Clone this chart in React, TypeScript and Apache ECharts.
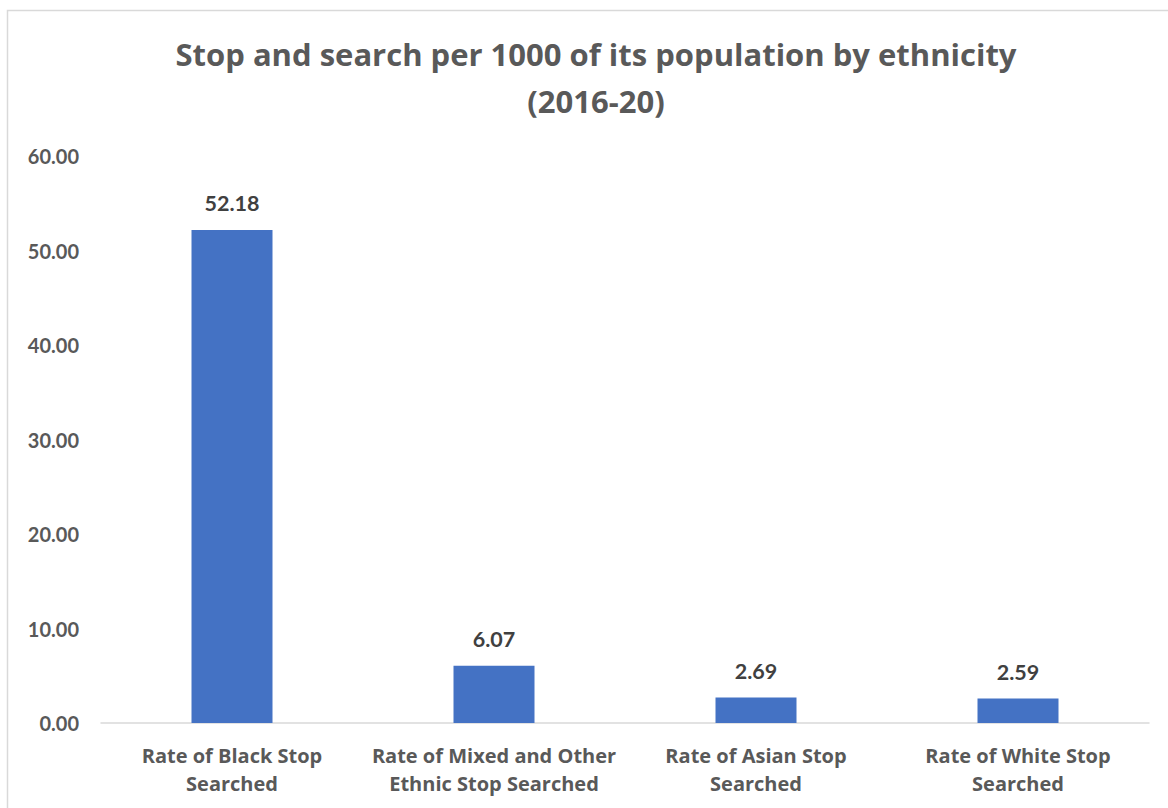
import React, { useEffect, useRef } from "react";
import * as echarts from "echarts";

const categories = [
  "Rate of Black Stop\nSearched",
  "Rate of Mixed and Other\nEthnic Stop Searched",
  "Rate of Asian Stop\nSearched",
  "Rate of White Stop\nSearched",
];
const values = [52.18, 6.07, 2.69, 2.59];
const titleText = "Stop and search per 1000 of its population by ethnicity\n(2016-20)";

const FONT = "Lato, 'Open Sans', sans-serif";
const FONT2 = "'Open Sans', Lato, sans-serif";

export default function App() {
  const ref = useRef<HTMLDivElement>(null);
  useEffect(() => {
    if (!ref.current) return;
    const chart = echarts.init(ref.current, null, { renderer: "svg" });
    chart.setOption({
      animation: false,
      backgroundColor: "#ffffff",
      title: {
        text: titleText,
        left: 591,
        textAlign: "center",
        top: 25,
        textStyle: {
          fontFamily: FONT2,
          fontSize: 31,
          fontWeight: "bold",
          color: "#595959",
          lineHeight: 47,
        },
      },
      graphic: [
        {
          type: "rect",
          shape: { x: 7.5, y: 10.5, width: 1200, height: 900 },
          style: { fill: "none", stroke: "#d9d9d9", lineWidth: 1.5 },
          silent: true,
          z: -1,
        },
      ],
      grid: { left: 101, right: 19, top: 156, bottom: 85 },
      xAxis: {
        type: "category",
        data: categories,
        axisLine: { show: true, lineStyle: { color: "#d9d9d9", width: 1.5 } },
        axisTick: { show: false },
        axisLabel: {
          fontFamily: FONT2,
          fontSize: 20,
          fontWeight: "bold",
          color: "#595959",
          lineHeight: 28,
          margin: 18,
          interval: 0,
        },
      },
      yAxis: {
        type: "value",
        min: 0,
        max: 60,
        interval: 10,
        splitLine: { show: false },
        axisLine: { show: false },
        axisTick: { show: false },
        axisLabel: {
          fontFamily: FONT,
          fontSize: 20,
          fontWeight: "bold",
          color: "#595959",
          margin: 22,
          formatter: (v: number) => v.toFixed(2),
        },
      },
      series: [
        {
          type: "bar",
          data: values,
          barWidth: 81,
          itemStyle: { color: "#4472c4" },
          label: {
            show: true,
            position: "top",
            distance: 16,
            fontFamily: FONT,
            fontSize: 21.5,
            fontWeight: "bold",
            color: "#404040",
            formatter: (p: any) => Number(p.value).toFixed(2),
          },
        },
      ],
    });
    return () => chart.dispose();
  }, []);
  return (
    <div
      ref={ref}
      style={{ position: "absolute", left: 0, top: 0, width: 1168, height: 808 }}
    />
  );
}
